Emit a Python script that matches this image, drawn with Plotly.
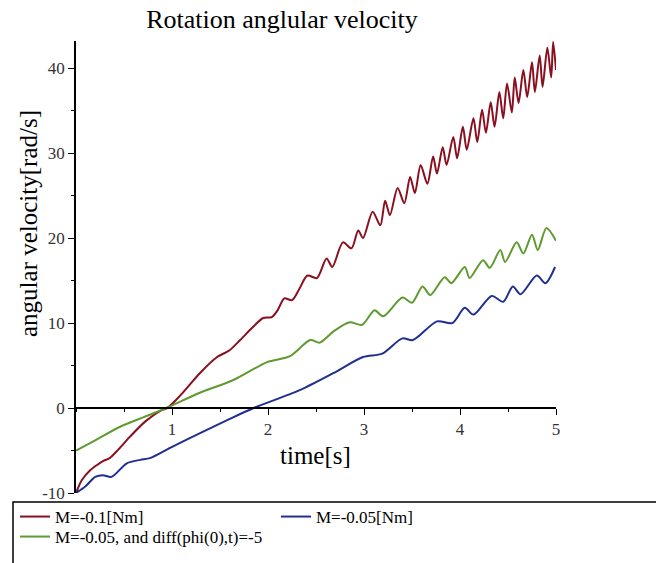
import plotly.graph_objects as go

# ---- data ----
t_red = [0, 0.06, 0.15, 0.22, 0.29, 0.35, 0.44, 0.56, 0.72, 0.875, 0.95, 1.08, 1.29, 1.47, 1.6, 1.71,
         1.84, 1.95, 2.04, 2.1, 2.17, 2.25, 2.33, 2.41, 2.51, 2.61, 2.67, 2.78, 2.87, 2.94, 2.99,
         3.09, 3.17, 3.22, 3.27, 3.35, 3.42, 3.48, 3.53, 3.59, 3.66, 3.72, 3.76, 3.82, 3.86, 3.93, 3.97,
         4.03, 4.07, 4.14, 4.18, 4.23, 4.27, 4.32, 4.36, 4.41, 4.45, 4.49, 4.54, 4.57, 4.61, 4.66, 4.70,
         4.75, 4.78, 4.83, 4.86, 4.91, 4.95, 4.97, 5.0]
v_red = [-10, -8.5, -7.3, -6.7, -6.2, -5.9, -4.9, -3.4, -1.6, -0.35, 0, 1.4, 4.1, 6.0, 6.8, 8.0,
         9.5, 10.6, 10.7, 11.5, 12.9, 12.7, 14.1, 15.6, 15.3, 17.6, 16.6, 19.5, 18.8, 20.9, 20.0,
         23.1, 21.5, 24.4, 22.7, 25.9, 24.1, 27.2, 25.3, 28.6, 26.4, 29.6, 27.6, 30.7, 28.6, 31.9, 29.4,
         33.1, 30.4, 34.1, 31.3, 35.1, 32.4, 36.0, 33.1, 37.2, 34.1, 38.2, 34.8, 38.9, 35.9, 39.8, 36.6,
         40.7, 37.2, 41.5, 37.8, 42.4, 38.9, 43.1, 39.8]

t_blue = [0, 0.1, 0.2, 0.28, 0.37, 0.53, 0.67, 0.77, 0.98, 1.32, 1.58, 1.85, 2.33, 2.68, 2.99, 3.19,
          3.4, 3.51, 3.76, 3.92, 4.05, 4.14, 4.33, 4.45, 4.55, 4.63, 4.8, 4.89, 4.99]
v_blue = [-10, -9.2, -8.1, -7.9, -8.1, -6.5, -6.1, -5.9, -4.7, -2.8, -1.4, 0, 2.1, 4.1, 6.0, 6.4,
          8.2, 8.0, 10.2, 10.0, 11.8, 11.0, 13.2, 12.5, 14.3, 13.4, 15.6, 14.7, 16.6]

t_green = [0, 0.2, 0.46, 0.7, 0.94, 1.29, 1.64, 1.99, 2.23, 2.44, 2.54, 2.68, 2.85, 2.98, 3.11, 3.2,
           3.4, 3.5, 3.61, 3.69, 3.84, 3.91, 4.05, 4.1, 4.24, 4.31, 4.42, 4.47, 4.59, 4.66, 4.75, 4.81,
           4.9, 5.0]
v_green = [-5, -3.8, -2.2, -1.1, 0, 1.8, 3.3, 5.4, 6.1, 8.0, 7.7, 9.0, 10.1, 9.8, 11.5, 10.8,
           13.0, 12.4, 14.3, 13.3, 15.4, 14.7, 16.6, 15.3, 17.4, 16.5, 18.6, 17.2, 19.5, 18.2, 20.4, 18.6,
           21.2, 19.7]

names = ["M=-0.1[Nm]", "M=-0.05[Nm]", "M=-0.05, and diff(phi(0),t)=-5"]
colors = ["#8a1020", "#1f2f8f", "#5e9a30"]
x_ticks = [1, 2, 3, 4, 5]
y_ticks = [-10, 0, 10, 20, 30, 40]

Y_MIN, Y_MAX = -10, 43.2
SERIF = "Liberation Serif, Times New Roman, serif"

# figure fills the page (body margin removed); plot area spans px x 76..556, y 41..493
W, H = 656, 563
PL, PT, PW, PH = 76, 41, 480, 452


def px(xp):
    return (xp - PL) / PW


def py(yp):
    return (PT + PH - yp) / PH


fig = go.Figure()
for t, v, n, c, lg in [(t_red, v_red, names[0], colors[0], "legend"),
                       (t_blue, v_blue, names[1], colors[1], "legend"),
                       (t_green, v_green, names[2], colors[2], "legend2")]:
    fig.add_trace(go.Scatter(x=t, y=v, mode="lines", name=n, legend=lg,
                             line=dict(color=c, width=2, shape="spline", smoothing=0.8)))

zero_pos = (0 - Y_MIN) / (Y_MAX - Y_MIN)
legend_font = dict(family=SERIF, size=17, color="black")

fig.update_layout(
    width=W, height=H,
    margin=dict(l=PL, r=W - PL - PW, t=PT, b=H - PT - PH, autoexpand=False),
    paper_bgcolor="white", plot_bgcolor="white",
    font=dict(family=SERIF, color="black"),
    showlegend=True,
    legend=dict(orientation="h", x=px(15), y=py(499), xanchor="left", yanchor="top",
                entrywidth=216, entrywidthmode="pixels", font=legend_font,
                bgcolor="rgba(0,0,0,0)", borderwidth=0),
    legend2=dict(orientation="h", x=px(15), y=py(519), xanchor="left", yanchor="top",
                 font=legend_font, bgcolor="rgba(0,0,0,0)", borderwidth=0),
    title=dict(text="Rotation anglular velocity", x=282 / W, xanchor="center",
               y=1 - 19 / H, yanchor="middle", xref="container", yref="container",
               font=dict(family=SERIF, size=26, color="black")),
    xaxis=dict(range=[0, 5], anchor="free", position=zero_pos,
               showline=True, linecolor="black", linewidth=1.5,
               showgrid=False, zeroline=False,
               tickvals=x_ticks, ticktext=[str(v) for v in x_ticks],
               ticks="outside", ticklen=6, tickwidth=1.2, tickcolor="black",
               tickfont=dict(family=SERIF, size=17, color="#333"),
               minor=dict(ticks="outside", ticklen=3, tickwidth=1.2, dtick=0.5, tickcolor="black",
                          showgrid=False)),
    yaxis=dict(range=[Y_MIN, Y_MAX], showline=True, linecolor="black", linewidth=1.5,
               showgrid=False, zeroline=False,
               tickvals=y_ticks, ticktext=[("-" + str(-v)) if v < 0 else str(v) for v in y_ticks],
               ticks="outside", ticklen=6, tickwidth=1.2, tickcolor="black",
               tickfont=dict(family=SERIF, size=17, color="#333"),
               minor=dict(ticks="outside", ticklen=3, tickwidth=1.2, dtick=5, tickcolor="black",
                          showgrid=False)),
    annotations=[
        dict(text="time[s]", xref="paper", yref="paper", x=px(315), y=py(455),
             showarrow=False, xanchor="center", yanchor="middle",
             font=dict(family=SERIF, size=25, color="black")),
        dict(text="angular velocity[rad/s]", xref="paper", yref="paper",
             x=px(28), y=py(224), textangle=-90,
             showarrow=False, xanchor="center", yanchor="middle",
             font=dict(family=SERIF, size=25, color="black")),
    ],
    shapes=[
        dict(type="rect", xref="paper", yref="paper",
             x0=px(13), x1=px(670), y0=py(502), y1=py(580),
             line=dict(color="black", width=1.5), fillcolor="rgba(0,0,0,0)"),
    ],
)

fig.write_html("out.html", config={"displayModeBar": False},
               post_script="document.body.style.margin='0';document.body.style.overflow='hidden';")
